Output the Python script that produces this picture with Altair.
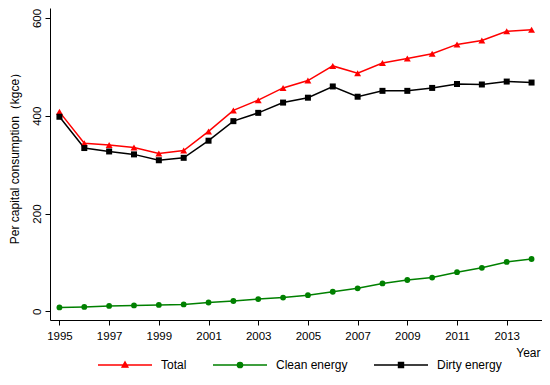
import altair as alt
import pandas as pd

years = list(range(1995, 2015))
total = [408, 344, 340, 335, 323, 329, 368, 411, 432, 457, 472, 502, 487, 508, 517, 527, 546, 554, 573, 576]
clean = [8, 9, 11, 12, 13, 14, 18, 21, 25, 28, 33, 40, 47, 57, 64, 69, 80, 89, 101, 107]
dirty = [398, 334, 327, 321, 309, 314, 349, 389, 406, 427, 437, 460, 439, 451, 451, 457, 465, 464, 470, 468]

series_names = ["Total", "Clean energy", "Dirty energy"]
series_colors = ["#ff0000", "#008000", "#000000"]
marker_shapes = ["triangle-up", "circle", "square"]
marker_sizes = [48, 34, 36]
x_ticks = list(range(1995, 2014, 2))
y_ticks = [0, 200, 400, 600]

rows = []
for name, vals in zip(series_names, [total, clean, dirty]):
    for yr, v in zip(years, vals):
        rows.append({"year": yr, "value": v, "series": name})
df = pd.DataFrame(rows)

FONT = "Liberation Sans"
W, H = 492, 312

x_enc = alt.X(
    "year:Q",
    scale=alt.Scale(domain=[1994.62, 2014.42], nice=False, zero=False),
    axis=alt.Axis(
        values=x_ticks, format="d", grid=False, title="Year",
        domainColor="black", tickColor="black", tickSize=5, labelPadding=5,
        labelFont=FONT, labelFontSize=11.5, labelColor="black",
        titleFont=FONT, titleFontSize=12, titleFontWeight="normal", titleColor="black",
        titleAnchor="end", titleAlign="right", titleX=W - 2, titleY=32, titleBaseline="middle",
    ),
)
y_enc = alt.Y(
    "value:Q",
    scale=alt.Scale(domain=[-17.8, 620.5], nice=False, zero=False),
    axis=alt.Axis(
        values=y_ticks, grid=False, title="Per capital consumption（kgce）",
        domainColor="black", tickColor="black", tickSize=5, labelPadding=3,
        labelAngle=270, labelAlign="center", labelBaseline="bottom",
        labelFont=FONT, labelFontSize=11.5, labelColor="black",
        titleFont=FONT, titleFontSize=12, titleFontWeight="normal", titleColor="black",
        titleAngle=270, titleAlign="center", titleBaseline="top", titleX=-41, titleY=147,
    ),
)

base = alt.Chart(df)

layers = []
for name, col in zip(series_names, series_colors):
    layers.append(
        base.transform_filter(alt.datum.series == name)
        .mark_line(strokeWidth=1.5, color=col)
        .encode(x=x_enc, y=y_enc)
    )
for name, col, shp, sz in zip(series_names, series_colors, marker_shapes, marker_sizes):
    layers.append(
        base.transform_filter(alt.datum.series == name)
        .mark_point(filled=True, opacity=1, shape=shp, size=sz, color=col)
        .encode(x=x_enc, y=y_enc)
    )

legend_paths = [
    "M-1,0L1,0M-0.11,0.08L0,-0.12L0.11,0.08Z",
    "M-1,0L1,0M-0.1,0A0.1,0.1,0,1,0,0.1,0A0.1,0.1,0,1,0,-0.1,0Z",
    "M-1,0L1,0M-0.095,-0.095L0.095,-0.095L0.095,0.095L-0.095,0.095Z",
]
leg = alt.Legend(
    title=None, orient="none", legendX=47, legendY=329, direction="horizontal",
    symbolSize=2916, symbolStrokeWidth=1.3, padding=0,
    labelFont=FONT, labelFontSize=12, labelColor="black", labelOffset=8,
    columnPadding=23,
)
# legend carrier: draws no marks (filtered out); legend comes from explicit scale domains
legend_layer = base.transform_filter("datum.value < -1000").mark_point(
    filled=True, opacity=1, size=2916
).encode(
    x=x_enc, y=y_enc,
    fill=alt.Fill("series:N", scale=alt.Scale(domain=series_names, range=series_colors), legend=leg),
    stroke=alt.Stroke("series:N", scale=alt.Scale(domain=series_names, range=series_colors), legend=leg),
    shape=alt.Shape("series:N", scale=alt.Scale(domain=series_names, range=legend_paths), legend=leg),
)
layers.append(legend_layer)

chart = alt.layer(*layers).properties(
    width=W, height=H,
    autosize=alt.AutoSizeParams(type="none"),
    padding={"left": 42, "top": 0, "right": 0, "bottom": 54},
).configure_view(stroke=None)

chart.save("out.html", embed_options={"renderer": "svg", "actions": False})
